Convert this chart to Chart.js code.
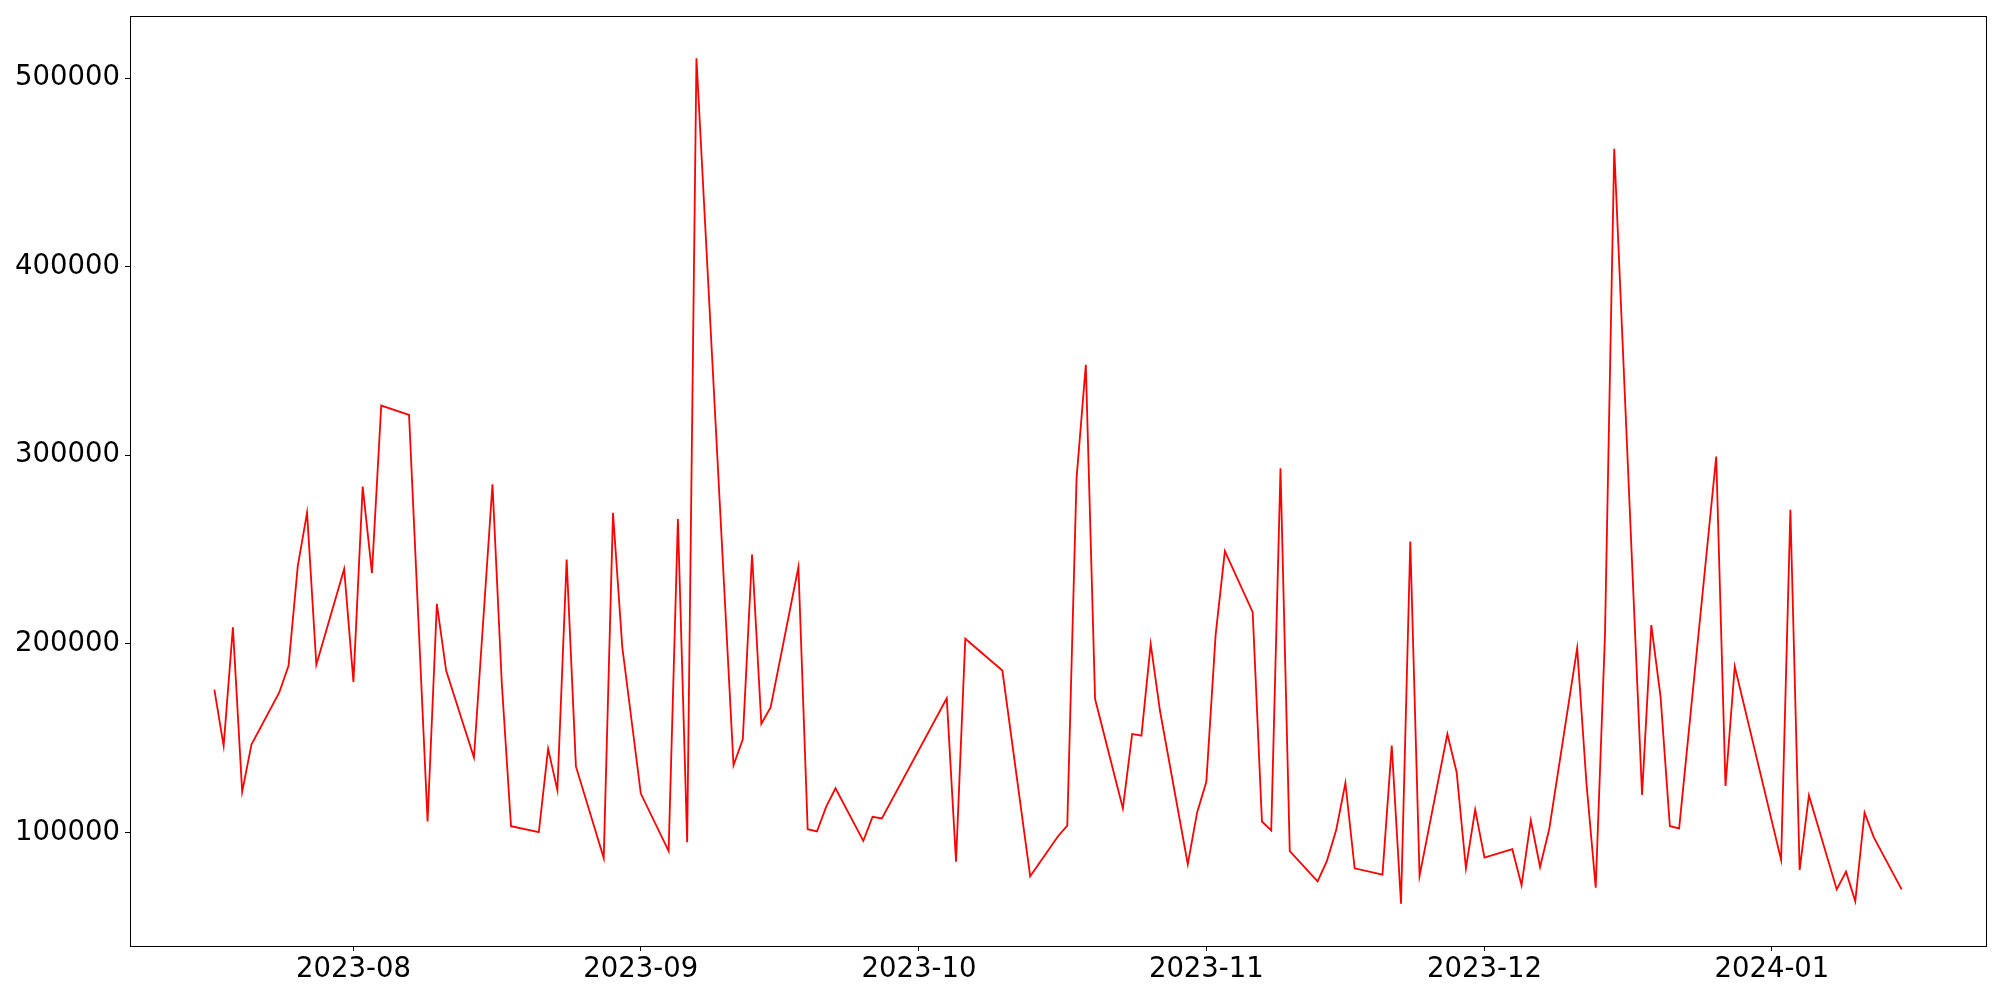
<!DOCTYPE html>
<html lang="en">
<head>
    <meta charset="UTF-8">
    <title>Daily series</title>
    <script src="https://cdn.jsdelivr.net/npm/chart.js"></script>
    <style>
        body { margin: 0; background: #fff; }
        #wrap { width: 2000px; height: 1000px; }
    </style>
</head>
<body>
    <div id="wrap"><canvas id="lineChart"></canvas></div>

    <script>
        const dates = [
            '2023-07-17', '2023-07-18', '2023-07-19', '2023-07-20', '2023-07-21',
            '2023-07-24', '2023-07-25', '2023-07-26', '2023-07-27', '2023-07-28',
            '2023-07-31', '2023-08-01', '2023-08-02', '2023-08-03', '2023-08-04',
            '2023-08-07', '2023-08-09', '2023-08-10', '2023-08-11',
            '2023-08-14', '2023-08-16', '2023-08-17', '2023-08-18',
            '2023-08-21', '2023-08-22', '2023-08-23', '2023-08-24', '2023-08-25',
            '2023-08-28', '2023-08-29', '2023-08-30', '2023-09-01',
            '2023-09-04', '2023-09-05', '2023-09-06', '2023-09-07',
            '2023-09-11', '2023-09-12', '2023-09-13', '2023-09-14', '2023-09-15',
            '2023-09-18', '2023-09-19', '2023-09-20', '2023-09-21', '2023-09-22',
            '2023-09-25', '2023-09-26', '2023-09-27',
            '2023-10-04', '2023-10-05', '2023-10-06', '2023-10-10', '2023-10-13',
            '2023-10-16', '2023-10-17', '2023-10-18', '2023-10-19', '2023-10-20',
            '2023-10-23', '2023-10-24', '2023-10-25', '2023-10-26', '2023-10-27',
            '2023-10-30', '2023-10-31', '2023-11-01', '2023-11-02', '2023-11-03',
            '2023-11-06', '2023-11-07', '2023-11-08', '2023-11-09', '2023-11-10',
            '2023-11-13', '2023-11-14', '2023-11-15', '2023-11-16', '2023-11-17',
            '2023-11-20', '2023-11-21', '2023-11-22', '2023-11-23', '2023-11-24',
            '2023-11-27', '2023-11-28', '2023-11-29', '2023-11-30', '2023-12-01',
            '2023-12-04', '2023-12-05', '2023-12-06', '2023-12-07', '2023-12-08',
            '2023-12-11', '2023-12-12', '2023-12-13', '2023-12-14', '2023-12-15',
            '2023-12-18', '2023-12-19', '2023-12-20', '2023-12-21', '2023-12-22',
            '2023-12-26', '2023-12-27', '2023-12-28',
            '2024-01-02', '2024-01-03', '2024-01-04', '2024-01-05',
            '2024-01-08', '2024-01-09', '2024-01-10', '2024-01-11', '2024-01-12',
            '2024-01-15'
        ];

        const values = [
            175800, 146000, 208800, 121600, 146700,
            174300, 188400, 241400, 269600, 189000,
            239800, 179900, 283400, 237600, 326400,
            321400, 105900, 221300, 185900,
            139800, 284700, 179600, 103400,
            100300, 144500, 122500, 244800, 135100,
            86500, 269600, 198400, 120700,
            90200, 266200, 94900, 510500,
            135700, 149500, 247400, 157700, 166400,
            240800, 101800, 100600, 113800, 123500,
            95600, 108400, 107500,
            171200, 84600, 202800, 185900, 76800,
            98100, 103700, 287800, 348000, 170800,
            112800, 152300, 151400, 200000, 164600,
            83300, 110600, 126900, 204700, 249200,
            216900, 105900, 101200, 293100, 90200,
            74200, 84900, 101200, 126300, 81100,
            77700, 146100, 62300, 254300, 77100,
            152300, 132000, 81100, 112200, 86800,
            91200, 72100, 106500, 81800, 102200,
            197800, 126300, 70800, 204700, 462500,
            120000, 210000, 171800, 103400, 102200,
            299400, 124700, 188100,
            85500, 271200, 80200, 119700,
            69900, 79300, 63600, 110600, 97500,
            69900
        ];

        const xTickLabels = ['2023-08', '2023-09', '2023-10', '2023-11', '2023-12', '2024-01'];
        const yTickValues = [100000, 200000, 300000, 400000, 500000];

        const toTime = s => Date.parse(s + 'T00:00:00Z');
        const times = dates.map(toTime);
        const xTicks = xTickLabels.map(m => toTime(m + '-01'));

        // matplotlib style 5% margins
        const tMin = Math.min(...times), tMax = Math.max(...times);
        const vMin = Math.min(...values), vMax = Math.max(...values);
        const tPad = (tMax - tMin) * 0.05, vPad = (vMax - vMin) * 0.05;

        const fmtMonth = t => {
            const d = new Date(t);
            return d.getUTCFullYear() + '-' + String(d.getUTCMonth() + 1).padStart(2, '0');
        };

        const frame = {
            id: 'frame',
            afterDraw(chart) {
                const a = chart.chartArea, ctx = chart.ctx;
                ctx.save();
                ctx.strokeStyle = '#000';
                ctx.lineWidth = 1;
                ctx.strokeRect(Math.round(a.left) + 0.5, Math.round(a.top) + 0.5,
                    Math.round(a.right - a.left), Math.round(a.bottom - a.top));
                ctx.restore();
            }
        };

        const tickFont = { family: 'DejaVu Sans', size: 27.5, lineHeight: 0.8 };

        new Chart(document.getElementById('lineChart'), {
            type: 'line',
            data: {
                datasets: [{
                    data: times.map((t, i) => ({ x: t, y: values[i] })),
                    borderColor: '#ff0000',
                    borderWidth: 1.8,
                    pointRadius: 0,
                    tension: 0,
                    fill: false
                }]
            },
            options: {
                responsive: true,
                maintainAspectRatio: false,
                animation: false,
                layout: { padding: { left: 0, top: 13, right: 14, bottom: 0 } },
                plugins: { legend: { display: false }, tooltip: { enabled: false } },
                scales: {
                    x: {
                        type: 'linear',
                        min: tMin - tPad,
                        max: tMax + tPad,
                        afterBuildTicks: s => { s.ticks = xTicks.map(v => ({ value: v })); },
                        afterFit: s => { s.height = 54; },
                        border: { display: false },
                        grid: { drawOnChartArea: false, color: '#000', tickLength: 5 },
                        ticks: { color: '#000', font: tickFont, padding: 8, maxRotation: 0,
                                 autoSkip: false, callback: v => fmtMonth(v) }
                    },
                    y: {
                        min: vMin - vPad,
                        max: vMax + vPad,
                        afterBuildTicks: s => { s.ticks = yTickValues.map(v => ({ value: v })); },
                        afterFit: s => { s.width = 130; },
                        border: { display: false },
                        grid: { drawOnChartArea: false, color: '#000', tickLength: 5 },
                        ticks: { color: '#000', font: tickFont, padding: 5, callback: v => String(v) }
                    }
                }
            },
            plugins: [frame]
        });
    </script>
</body>
</html>
